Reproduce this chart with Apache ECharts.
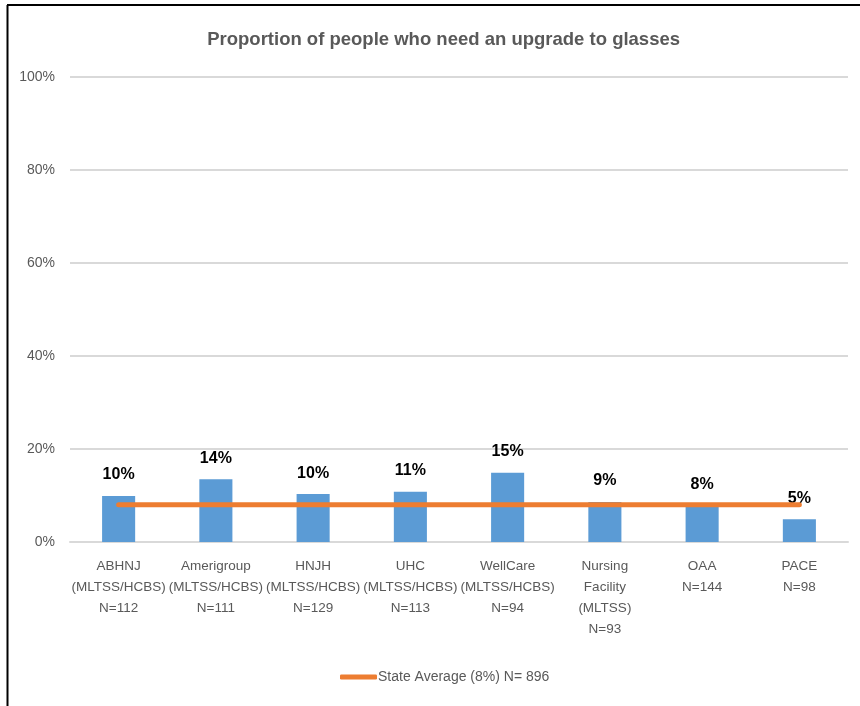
<!DOCTYPE html>
<html><head><meta charset="utf-8">
<script src="https://cdn.jsdelivr.net/npm/echarts@6/dist/echarts.min.js"></script>
<style>html,body{margin:0;padding:0;background:#fff}#c{width:860px;height:706px}</style>
</head><body><div id="c"></div>
<script>
var categories = ['ABHNJ\n(MLTSS/HCBS)\nN=112','Amerigroup\n(MLTSS/HCBS)\nN=111','HNJH\n(MLTSS/HCBS)\nN=129','UHC\n(MLTSS/HCBS)\nN=113','WellCare\n(MLTSS/HCBS)\nN=94','Nursing\nFacility\n(MLTSS)\nN=93','OAA\nN=144','PACE\nN=98'];
var upgradeValues = [9.9, 13.5, 10.3, 10.8, 14.9, 8.6, 7.9, 4.9];
var stateAverage = [8, 8, 8, 8, 8, 8, 8, 8];
var FONT = '"Liberation Sans", Arial, sans-serif';
var chart = echarts.init(document.getElementById('c'));
chart.setOption({
  animation: false,
  backgroundColor: '#fff',
  title: {
    text: 'Proportion of people who need an upgrade to glasses',
    left: '51%', textAlign: 'center', top: 25,
    textStyle: {fontFamily: FONT, fontSize: 18.5, fontWeight: 'bold', color: '#595959'}
  },
  graphic: [
    {type: 'line', shape: {x1: 7, y1: 5, x2: 860, y2: 5}, style: {stroke: '#000', lineWidth: 2}},
    {type: 'line', shape: {x1: 7.5, y1: 5, x2: 7.5, y2: 706}, style: {stroke: '#000', lineWidth: 2}}
  ],
  legend: {
    bottom: 17, left: 335,
    icon: 'roundRect', itemWidth: 37, itemHeight: 5, itemGap: 0,
    data: ['State Average (8%) N= 896'],
    textStyle: {fontFamily: FONT, fontSize: 14, color: '#595959', padding: [0,0,0,-4]}
  },
  grid: {left: 70, right: 12, top: 77, bottom: 164},
  xAxis: {
    type: 'category', data: categories,
    axisLine: {lineStyle: {color: '#D9D9D9', width: 2}},
    axisTick: {show: false},
    axisLabel: {interval: 0, fontFamily: FONT, fontSize: 13.5, color: '#595959', lineHeight: 21, margin: 14}
  },
  yAxis: {
    type: 'value', min: 0, max: 100, interval: 20,
    axisLabel: {formatter: function(v){return v + '%';}, fontFamily: FONT, fontSize: 14, color: '#595959', margin: 15},
    splitLine: {lineStyle: {color: '#D9D9D9', width: 2}},
    axisLine: {show: false}, axisTick: {show: false}
  },
  series: [
    {
      name: 'Proportion', type: 'bar', data: upgradeValues, barWidth: '34%', z: 2,
      itemStyle: {color: '#5B9BD5'},
      label: {show: true, position: 'top', distance: 13, formatter: function(p){return Math.round(p.value) + '%';},
        fontFamily: FONT, fontSize: 16, fontWeight: 'bold', color: '#000'}
    },
    {
      name: 'State Average (8%) N= 896', type: 'line', data: stateAverage,
      symbol: 'none', lineStyle: {color: '#ED7D31', width: 5, cap: 'round'},
      itemStyle: {color: '#ED7D31'}, z: 3
    }
  ]
});
</script></body></html>
